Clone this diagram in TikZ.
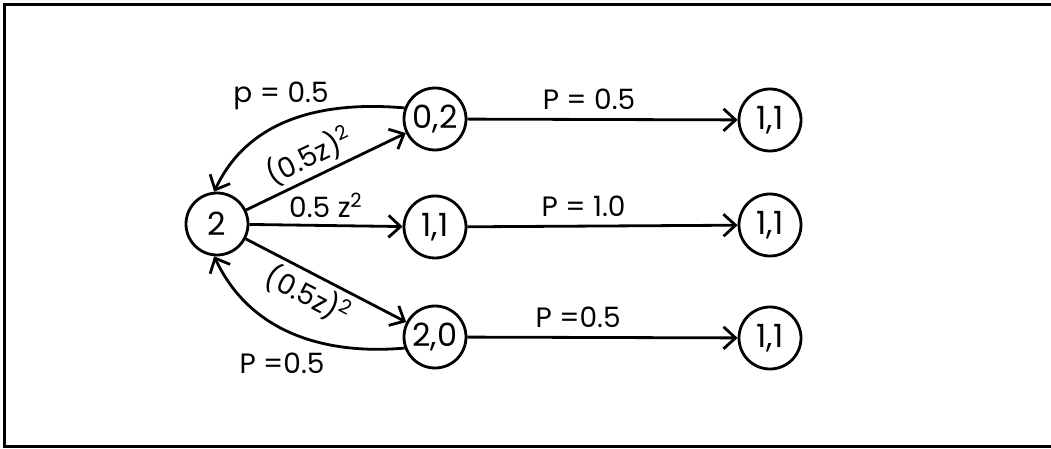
\documentclass[tikz,border=0pt]{standalone}
\usepackage{fontspec}
\setmainfont{Poppins}
\usetikzlibrary{arrows.meta}
\tikzstyle{state}=[circle,draw=black,line width=1.4pt,minimum size=31pt,
                inner sep=0pt,font=\fontsize{16}{18}\selectfont]
\tikzstyle{hit}=[-{Straight Barb[length=6pt,width=11pt]},line width=1.4pt]
\tikzstyle{lbl}=[font=\fontsize{14}{16}\selectfont,inner sep=1pt]
\tikzstyle{frame}=[line width=1.5pt]
\newcommand{\sq}{\textsuperscript{2}}

\begin{document}
\begin{tikzpicture}[x=0.5pt,y=0.5pt]
\useasboundingbox (0,0) rectangle (1051,-449);
\draw[frame] (1051,-5) -- (4,-5) -- (4,-446) -- (1051,-446);
% states
\node[state] (s) at (217,-224) {2};
\node[state] (a02) at (435,-119) {0,2};
\node[state] (a11) at (435,-227) {1,1};
\node[state] (a20) at (435,-337) {2,0};
\node[state] (b1) at (770,-120) {1,1};
\node[state] (b2) at (770,-225) {1,1};
\node[state] (b3) at (770,-338) {1,1};
% first step
\draw[hit] (s) -- (a02) node[lbl,pos=0.45,sloped,above=1pt] {(0.5z)\sq};
\draw[hit] (s) -- (a11) node[lbl,midway,above=2pt] {0.5 z\sq};
\draw[hit] (s) -- (a20) node[lbl,pos=0.45,sloped,below=1pt] {(0.5z)\sq};
% back to the start
\draw[hit] (a02.160) to[out=175,in=65] (s.95);
\draw[hit] (a20.200) to[out=185,in=-65] (s.-95);
\node[lbl] (pup) at (281,-96) {p = 0.5};
\node[lbl] (pdown) at (282,-363) {P =0.5};
% second step
\draw[hit] (a02) -- (b1) node[lbl,pos=0.45,above=3pt] {P = 0.5};
\draw[hit] (a11) -- (b2) node[lbl,pos=0.43,above=3pt] {P = 1.0};
\draw[hit] (a20) -- (b3) node[lbl,pos=0.41,above=3pt] {P =0.5};
\end{tikzpicture}
\end{document}
